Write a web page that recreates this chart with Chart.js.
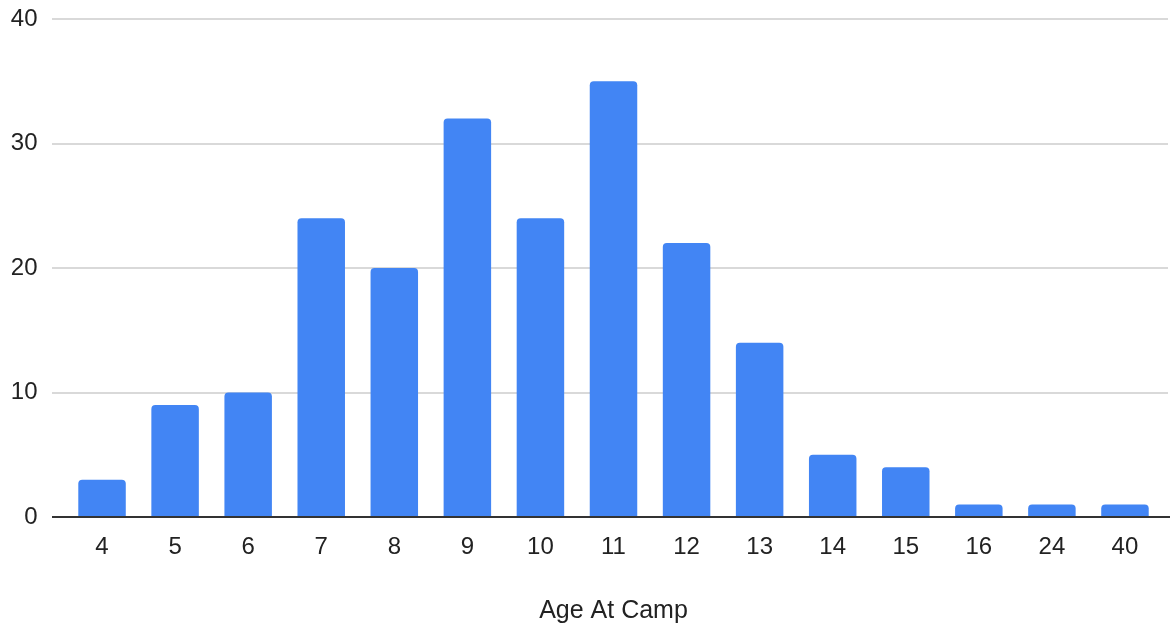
<!DOCTYPE html>
<html>
<head>
<meta charset="utf-8">
<script src="https://cdn.jsdelivr.net/npm/chart.js@4/dist/chart.umd.min.js"></script>
<style>
  html, body { margin: 0; padding: 0; background: #fff; }
  #wrap { width: 1170px; height: 630px; position: relative; }
</style>
</head>
<body>
<div id="wrap"><canvas id="c" width="1170" height="630"></canvas></div>
<script>
// Number of campers by age
const ages = ['4', '5', '6', '7', '8', '9', '10', '11', '12', '13', '14', '15', '16', '24', '40'];
const counts = [3, 9, 10, 24, 20, 32, 24, 35, 22, 14, 5, 4, 1, 1, 1];
const yTicks = [0, 10, 20, 30, 40];

const FONT = 'Liberation Sans, Arial, sans-serif';

// Horizontal gridlines that run a little past the plot area, with a dark baseline at zero
const gridPlugin = {
  id: 'wideGrid',
  beforeDatasetsDraw(chart) {
    const { ctx, chartArea, scales } = chart;
    const y = scales.y;
    const x0 = chartArea.left - 13.5;
    const x1 = chartArea.right + 6.5;
    ctx.save();
    y.ticks.forEach(t => {
      if (t.value === 0) return;
      const py = Math.round(y.getPixelForValue(t.value));
      ctx.strokeStyle = '#cccccc';
      ctx.lineWidth = 1.5;
      ctx.beginPath();
      ctx.moveTo(x0, py);
      ctx.lineTo(x1, py);
      ctx.stroke();
    });
    ctx.restore();
  },
  afterDatasetsDraw(chart) {
    const { ctx, chartArea, scales } = chart;
    const py = Math.round(scales.y.getPixelForValue(0));
    ctx.save();
    ctx.strokeStyle = '#333333';
    ctx.lineWidth = 2;
    ctx.beginPath();
    ctx.moveTo(chartArea.left - 13.5, py);
    ctx.lineTo(chart.width, py);
    ctx.stroke();
    ctx.restore();
  }
};

new Chart(document.getElementById('c'), {
  type: 'bar',
  data: {
    labels: ages,
    datasets: [{
      data: counts,
      backgroundColor: '#4285F4',
      borderRadius: { topLeft: 4, topRight: 4, bottomLeft: 0, bottomRight: 0 },
      borderSkipped: false,
      categoryPercentage: 1,
      barPercentage: 0.65
    }]
  },
  options: {
    responsive: false,
    animation: false,
    devicePixelRatio: 1,
    layout: { padding: { top: 19, right: 8.5, left: 0, bottom: 0 } },
    plugins: {
      legend: { display: false },
      tooltip: { enabled: false }
    },
    scales: {
      x: {
        grid: { display: false, drawTicks: false },
        border: { display: false },
        ticks: {
          color: '#222',
          font: { family: FONT, size: 24 },
          padding: 16,
          maxRotation: 0,
          autoSkip: false
        },
        title: {
          display: true,
          text: 'Age At Camp',
          color: '#222',
          font: { family: FONT, size: 25 },
          padding: { top: 22, bottom: 4 }
        },
        afterFit(scale) { scale.height = 113; }
      },
      y: {
        min: 0,
        max: 40,
        afterBuildTicks(scale) { scale.ticks = yTicks.map(v => ({ value: v })); },
        grid: { display: false, drawTicks: false },
        border: { display: false },
        ticks: {
          color: '#222',
          font: { family: FONT, size: 24 },
          padding: 28
        },
        afterFit(scale) {
          scale.width = 65.5;
          scale.paddingTop = 0;
          scale.paddingBottom = 0;
        }
      }
    }
  },
  plugins: [gridPlugin]
});
</script>
</body>
</html>
